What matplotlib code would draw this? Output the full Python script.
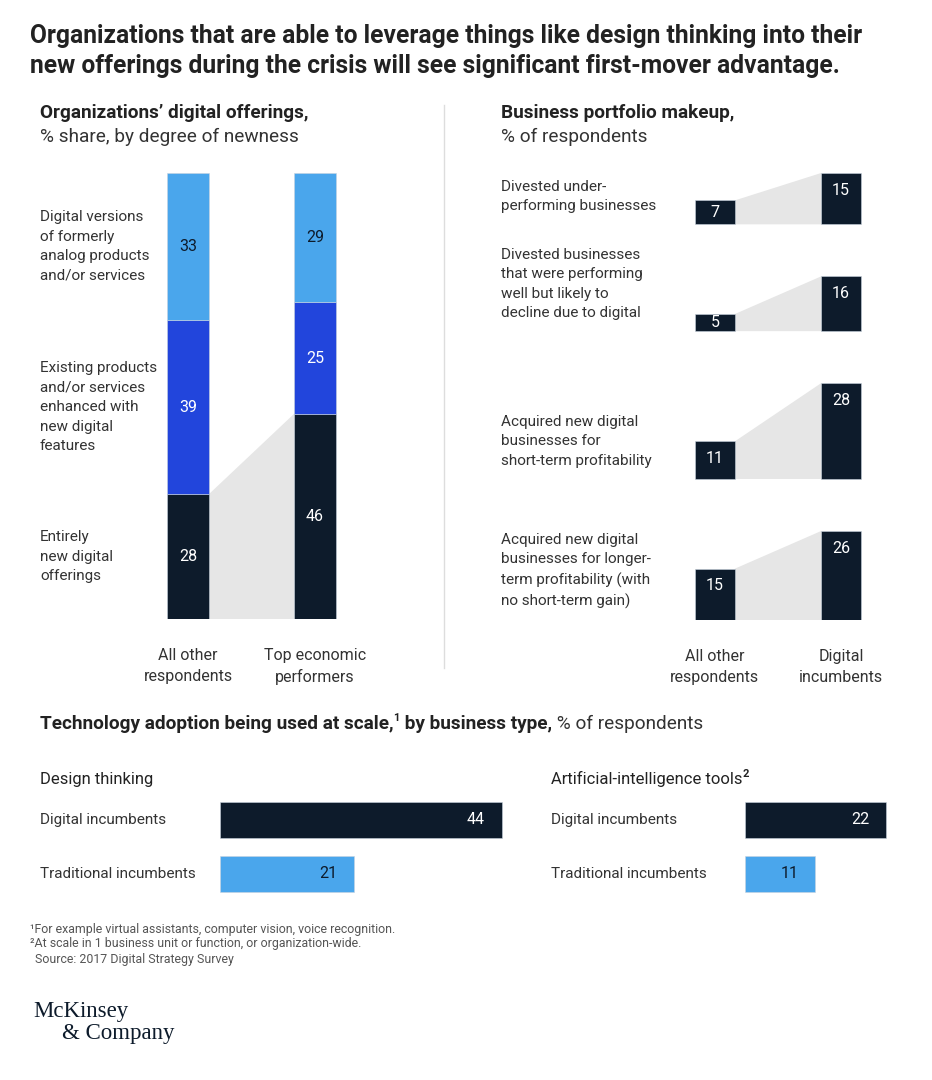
import matplotlib.pyplot as plt
from matplotlib.patches import Polygon
from matplotlib.lines import Line2D
import matplotlib.transforms as mtransforms

plt.rcParams['font.family'] = ['Roboto', 'DejaVu Sans']

# --- data ---
offer_groups = ['All other\nrespondents', 'Top economic\nperformers']
offer_types = ['Entirely\nnew digital\nofferings',
               'Existing products\nand/or services\nenhanced with\nnew digital\nfeatures',
               'Digital versions\nof formerly\nanalog products\nand/or services']
entirely_new = [28, 46]
enhanced = [39, 25]
digital_versions = [33, 29]

portfolio_labels = ['Divested under-\nperforming businesses',
                    'Divested businesses\nthat were performing\nwell but likely to\ndecline due to digital',
                    'Acquired new digital\nbusinesses for\nshort-term profitability',
                    'Acquired new digital\nbusinesses for longer-\nterm profitability (with\nno short-term gain)']
portfolio_groups = ['All other\nrespondents', 'Digital\nincumbents']
portfolio_other = [7, 5, 11, 15]
portfolio_digital = [15, 16, 28, 26]

tech_groups = ['Digital incumbents', 'Traditional incumbents']
design_thinking = [44, 21]
ai_tools = [22, 11]

# --- colours ---
NAVY = '#0d1b2b'
BLUE = '#2245dc'
LIGHT = '#4aa6ec'
GREY = '#e6e6e6'
TXT = '#222222'
BODY = '#333333'

W, H = 932, 1080
fig = plt.figure(figsize=(W / 100, H / 100), dpi=100)


def fx(x):
    return x / W


def fy(y):
    return 1 - y / H


def px_axes(x0, y0, x1, y1):
    ax = fig.add_axes([fx(x0), fy(y1), (x1 - x0) / W, (y1 - y0) / H])
    ax.axis('off')
    return ax


# headline
fig.text(fx(30), fy(51), 'Organizations that are able to leverage things like design thinking into their\n'
         'new offerings during the crisis will see significant first-mover advantage.',
         fontsize=17.7, fontweight='bold', color=TXT, va='center', linespacing=1.3)

# ---------- left panel: stacked bars ----------
fig.text(fx(40), fy(113), "Organizations\u2019 digital offerings,", fontsize=13.7,
         fontweight='bold', color=TXT, va='center')
fig.text(fx(40), fy(137), '% share, by degree of newness', fontsize=13.7, color=BODY, va='center')

ax1 = px_axes(124.5, 173, 378.5, 619)
x = [0, 1]
bw = 0.33
ax1.set_xlim(-0.5, 1.5)
ax1.set_ylim(0, 100)
b1 = ax1.bar(x, entirely_new, bw, color=NAVY, edgecolor='#c9d3de', linewidth=0.4)
b2 = ax1.bar(x, enhanced, bw, bottom=entirely_new, color=BLUE, edgecolor='#c9d3de', linewidth=0.4)
bottom3 = [a + b for a, b in zip(entirely_new, enhanced)]
b3 = ax1.bar(x, digital_versions, bw, bottom=bottom3, color=LIGHT, edgecolor='#c9d3de', linewidth=0.4)
ax1.add_patch(Polygon([(x[0] + bw / 2, 0), (x[0] + bw / 2, entirely_new[0]),
                       (x[1] - bw / 2, entirely_new[1]), (x[1] - bw / 2, 0)],
                      closed=True, facecolor=GREY, edgecolor='none', zorder=0))
for bars, tcol in [(b1, 'white'), (b2, 'white'), (b3, NAVY)]:
    for r in bars:
        ax1.text(r.get_x() + r.get_width() / 2, r.get_y() + r.get_height() / 2,
                 str(int(r.get_height())), ha='center', va='center', color=tcol, fontsize=11.5)

tr1 = mtransforms.blended_transform_factory(fig.transFigure, ax1.transData)
seg_bottoms = [0, entirely_new[0], bottom3[0]]
seg_heights = [entirely_new[0], enhanced[0], digital_versions[0]]
for lab, b, h in zip(offer_types, seg_bottoms, seg_heights):
    ax1.text(fx(40), b + h / 2, lab, transform=tr1, ha='left', va='center',
             fontsize=11, color=BODY, linespacing=1.5)
for xi, g in zip(x, offer_groups):
    ax1.annotate(g, (xi, 0), xytext=(0, -21), textcoords='offset points', ha='center',
                 va='top', fontsize=11.5, color=BODY, linespacing=1.45, annotation_clip=False)

# divider
fig.add_artist(Line2D([fx(444), fx(444)], [fy(105), fy(668)], color='#dddddd', linewidth=1))

# ---------- right panel: portfolio ----------
fig.text(fx(501), fy(113), 'Business portfolio makeup,', fontsize=13.7, fontweight='bold',
         color=TXT, va='center')
fig.text(fx(501), fy(137), '% of respondents', fontsize=13.7, color=BODY, va='center')

gap = 15.2
total = sum(portfolio_digital) + gap * (len(portfolio_digital) - 1)
ax2 = px_axes(677, 173, 879, 620)
ax2.set_xlim(-0.3, 1.3)
ax2.set_ylim(0, total)
bw2 = 0.317
tr2 = mtransforms.blended_transform_factory(fig.transFigure, ax2.transData)
cursor = total
for lab, lo, hi in zip(portfolio_labels, portfolio_other, portfolio_digital):
    base = cursor - hi
    ax2.bar([0, 1], [lo, hi], bw2, bottom=base, color=NAVY, edgecolor='#c9d3de', linewidth=0.4)
    ax2.add_patch(Polygon([(bw2 / 2, base), (bw2 / 2, base + lo), (1 - bw2 / 2, base + hi),
                           (1 - bw2 / 2, base)], closed=True, facecolor=GREY,
                          edgecolor='none', zorder=0))
    ax2.text(0, base + lo - min(lo / 2, 5), str(lo), ha='center', va='center', color='white', fontsize=11.5)
    ax2.text(1, base + hi - min(hi / 2, 5), str(hi), ha='center', va='center', color='white', fontsize=11.5)
    ax2.annotate(lab, (fx(501), base), xycoords=tr2, xytext=(0, 8), textcoords='offset points',
                 ha='left', va='bottom', fontsize=11, color=BODY, linespacing=1.5,
                 annotation_clip=False)
    cursor = base - gap
for xi, g in zip([0, 1], portfolio_groups):
    ax2.annotate(g, (xi, 0), xytext=(0, -21), textcoords='offset points', ha='center',
                 va='top', fontsize=11.5, color=BODY, linespacing=1.45, annotation_clip=False)

# ---------- bottom: technology adoption ----------
renderer = fig.canvas.get_renderer()


def chain(x0, y0, parts):
    xp = x0
    for s, kw in parts:
        t = fig.text(fx(xp), fy(y0 - kw.pop('dy', 0)), s, va='baseline', **kw)
        bb = t.get_window_extent(renderer)
        xp += bb.width


chain(40, 729, [('Technology adoption being used at scale,', dict(fontsize=13.7, fontweight='bold', color=TXT)),
                ('1', dict(fontsize=8, fontweight='bold', color=TXT, dy=8)),
                (' by business type,', dict(fontsize=13.7, fontweight='bold', color=TXT)),
                (' % of respondents', dict(fontsize=13.7, color=BODY))])

for title, vals, xl, xb in [('Design thinking', design_thinking, 40, 220),
                             ('Artificial-intelligence tools', ai_tools, 551, 745)]:
    if title.startswith('Artificial'):
        chain(xl, 784, [(title, dict(fontsize=12, color=TXT)),
                        ('2', dict(fontsize=8, fontweight='bold', color=TXT, dy=7))])
    else:
        fig.text(fx(xl), fy(784), title, fontsize=12, color=TXT, va='baseline')
    ax = px_axes(xb, 793, xb + 320, 901)
    ax.set_xlim(0, 50)
    ax.set_ylim(1.5, -0.5)
    bars = ax.barh([0, 1], vals, 0.685, color=[NAVY, LIGHT], edgecolor='#c9d3de', linewidth=0.4)
    for r, tc in zip(bars, ['white', NAVY]):
        ax.annotate(str(int(r.get_width())), (r.get_width(), r.get_y() + r.get_height() / 2),
                    xytext=(-12, 0), textcoords='offset points', ha='right', va='center',
                    color=tc, fontsize=11.5)
    trb = mtransforms.blended_transform_factory(fig.transFigure, ax.transData)
    for i, g in enumerate(tech_groups):
        ax.text(fx(xl), i, g, transform=trb, ha='left', va='center', fontsize=11, color=BODY)

# footnotes
fig.text(fx(30), fy(930), '\u00b9For example virtual assistants, computer vision, voice recognition.',
         fontsize=8.9, color='#555555', va='center')
fig.text(fx(30), fy(944), '\u00b2At scale in 1 business unit or function, or organization-wide.',
         fontsize=8.9, color='#555555', va='center')
fig.text(fx(35), fy(959), 'Source: 2017 Digital Strategy Survey', fontsize=8.9, color='#555555', va='center')

# logo
fig.text(fx(33), fy(1012), 'McKinsey', fontsize=16.5, family='Liberation Serif', color=NAVY, va='center')
fig.text(fx(62), fy(1034), '& Company', fontsize=16.5, family='Liberation Serif', color=NAVY, va='center')

fig.savefig('out.png', dpi=100, facecolor='white')
